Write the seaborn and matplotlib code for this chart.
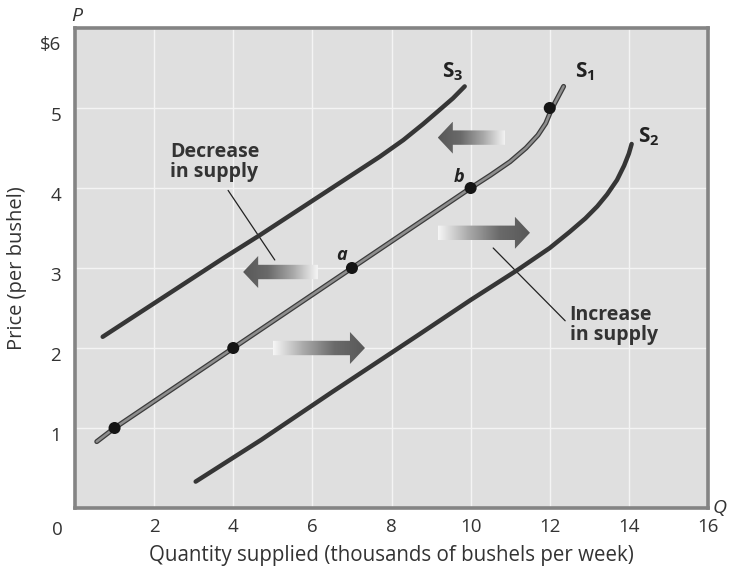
import numpy as np
import pandas as pd
import matplotlib
matplotlib.use("Agg")
import matplotlib.pyplot as plt
import matplotlib.transforms as mtransforms
from matplotlib.patches import Polygon
from matplotlib.colors import LinearSegmentedColormap
import seaborn as sns

# supply curves: quantity (thousands of bushels/week), price ($/bushel)
s1_q = [0.55, 1.0, 4.0, 7.0, 10.0, 10.5, 11.0, 11.4, 11.7, 11.9, 12.05, 12.2, 12.35]
s1_p = [0.83, 1.0, 2.0, 3.0, 4.0, 4.16, 4.33, 4.5, 4.66, 4.81, 4.99, 5.13, 5.27]

s2_q = [3.05, 4.7, 6.5, 8.7, 10.0, 11.2, 12.0, 12.5, 12.9, 13.2, 13.45, 13.7, 13.88, 14.0, 14.07]
s2_p = [0.33, 0.85, 1.45, 2.17, 2.6, 2.98, 3.25, 3.45, 3.62, 3.77, 3.92, 4.1, 4.28, 4.43, 4.55]

s3_q = [0.7, 3.74, 4.67, 7.7, 8.3, 8.8, 9.2, 9.55, 9.85]
s3_p = [2.14, 3.12, 3.41, 4.39, 4.6, 4.8, 4.97, 5.12, 5.27]

# labelled points on S1
pts_q = [1, 4, 7, 10, 12]
pts_p = [1, 2, 3, 4, 5]

x_ticks = [2, 4, 6, 8, 10, 12, 14, 16]
y_ticks = [1, 2, 3, 4, 5, 6]
y_labels = ["1", "2", "3", "4", "5", "$6"]

sns.set_style("darkgrid", {"axes.facecolor": "#dfdfdf", "grid.color": "#f4f4f4",
                           "axes.edgecolor": "#8c8c8c"})
plt.rcParams["font.family"] = ["Open Sans", "DejaVu Sans"]
plt.rcParams["mathtext.fontset"] = "custom"
plt.rcParams["mathtext.rm"] = "Open Sans"
plt.rcParams["mathtext.bf"] = "Open Sans:bold"
plt.rcParams["mathtext.it"] = "Open Sans:italic"

fig = plt.figure(figsize=(7.3, 5.76), dpi=100)
ax = fig.add_axes([75 / 730, 1 - 508 / 576, 633 / 730, 480 / 576])

s1 = pd.DataFrame({"q": s1_q, "p": s1_p})
s2 = pd.DataFrame({"q": s2_q, "p": s2_p})
s3 = pd.DataFrame({"q": s3_q, "p": s3_p})

# S1 is drawn as a grey line with a dark rim
sns.lineplot(data=s1, x="q", y="p", sort=False, color="#3c3c3c", linewidth=3.6, ax=ax, zorder=4)
sns.lineplot(data=s1, x="q", y="p", sort=False, color="#8e8e8e", linewidth=1.8, ax=ax, zorder=4)
sns.lineplot(data=s2, x="q", y="p", sort=False, color="#363636", linewidth=3.2, ax=ax, zorder=4)
sns.lineplot(data=s3, x="q", y="p", sort=False, color="#363636", linewidth=3.2, ax=ax, zorder=4)
sns.scatterplot(x=pts_q, y=pts_p, color="#151515", s=75, edgecolor="none", ax=ax, zorder=5)

ax.set_xlim(0, 16)
ax.set_ylim(0, 6)
ax.set_xticks(x_ticks)
ax.set_yticks(y_ticks)
ax.set_xticklabels([str(t) for t in x_ticks], fontsize=13.5, color="#333333")
ax.set_yticklabels(y_labels, fontsize=13.5, color="#333333")
ax.tick_params(axis="x", length=0, pad=7)
ax.tick_params(axis="y", length=0, pad=10)
for lab in ax.get_yticklabels():
    dy = -11 if lab.get_text() == "$6" else -4
    lab.set_transform(lab.get_transform() + mtransforms.ScaledTranslation(0, dy / 72, fig.dpi_scale_trans))
ax.grid(True, linewidth=1.0)
for sp in ax.spines.values():
    sp.set_linewidth(2.6)
    sp.set_color("#848484")

ax.set_xlabel("Quantity supplied (thousands of bushels per week)", fontsize=14.8, color="#333333", labelpad=7)
ax.set_ylabel("Price (per bushel)", fontsize=14.5, color="#333333", labelpad=9)

ax.text(-0.45, -0.27, "0", fontsize=13.5, color="#333333", ha="center", va="center", clip_on=False)
ax.text(16.3, 0.0, "Q", fontsize=14, style="italic", color="#333333", ha="center", va="center", clip_on=False)
ax.text(0.05, 6.15, "P", fontsize=14, style="italic", color="#333333", ha="center", va="center", clip_on=False)

# gradient block arrows
cmap = LinearSegmentedColormap.from_list("arr", ["#f6f6f6", "#a8a8a8", "#6a6a6a", "#585858"])


def grad_arrow(tail, head, p):
    body, head_h, head_len = 0.09, 0.2, 0.38
    d = np.sign(head - tail)
    neck = head - d * head_len
    verts = [(tail, p - body), (neck, p - body), (neck, p - head_h), (head, p),
             (neck, p + head_h), (neck, p + body), (tail, p + body)]
    patch = Polygon(verts, closed=True, facecolor="none", edgecolor="none")
    ax.add_patch(patch)
    g = np.linspace(0, 1, 256).reshape(1, -1)
    if d < 0:
        g = g[:, ::-1]
    im = ax.imshow(g, cmap=cmap, extent=[min(tail, head), max(tail, head), p - head_h, p + head_h],
                   aspect="auto", zorder=3, interpolation="bilinear")
    im.set_clip_path(patch)


grad_arrow(10.87, 9.17, 4.63)
grad_arrow(6.14, 4.25, 2.95)
grad_arrow(9.17, 11.5, 3.44)
grad_arrow(5.0, 7.33, 2.0)
ax.set_xlim(0, 16)
ax.set_ylim(0, 6)

# labels and leader lines
ax.text(2.4, 4.33, "Decrease\nin supply", fontsize=14, fontweight="bold", color="#333333",
        ha="left", va="center", linespacing=1.0)
ax.plot([3.87, 5.05], [3.97, 3.1], color="#222222", linewidth=0.9, zorder=3)
ax.text(12.5, 2.29, "Increase\nin supply", fontsize=14, fontweight="bold", color="#333333",
        ha="left", va="center", linespacing=1.0)
ax.plot([10.57, 12.39], [3.25, 2.34], color="#222222", linewidth=0.9, zorder=3)

ax.text(9.55, 5.45, r"$\mathbf{S}_{\mathbf{3}}$", fontsize=15, color="#222222", ha="center", va="center")
ax.text(12.9, 5.45, r"$\mathbf{S}_{\mathbf{1}}$", fontsize=15, color="#222222", ha="center", va="center")
ax.text(14.5, 4.64, r"$\mathbf{S}_{\mathbf{2}}$", fontsize=15, color="#222222", ha="center", va="center")
ax.text(6.74, 3.16, "a", fontsize=13, fontweight="bold", style="italic", color="#222222", ha="center", va="center")
ax.text(9.7, 4.14, "b", fontsize=13, fontweight="bold", style="italic", color="#222222", ha="center", va="center")

fig.savefig("out.png", dpi=100)
